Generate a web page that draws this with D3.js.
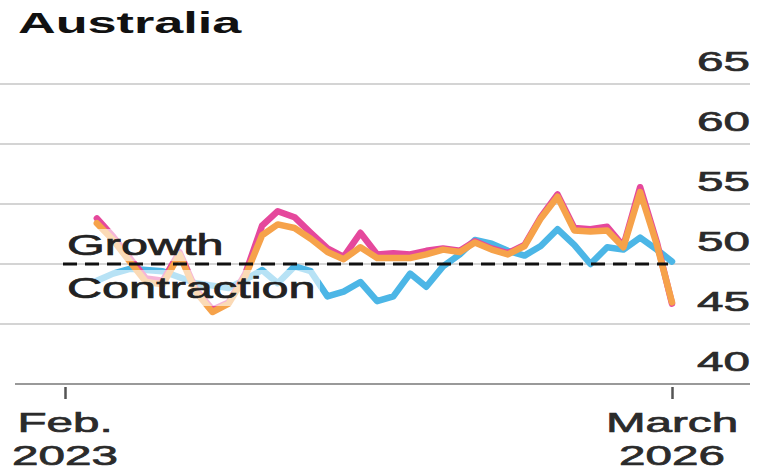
<!DOCTYPE html>
<html>
<head>
    <meta charset="utf-8">
    <title>Australia PMI</title>
    <script src="https://cdn.jsdelivr.net/npm/d3@7"></script>
    <style>
        html, body {
            margin: 0;
            padding: 0;
            background: #fff;
        }

        svg text {
            font-family: "Liberation Sans", Arial, sans-serif;
        }

        .heavy {
            stroke-width: 0.7px;
        }

        .grid {
            stroke: #d4d4d4;
            stroke-width: 2px;
        }

        .baseline {
            stroke: #999;
            stroke-width: 2px;
        }

        .series {
            fill: none;
            stroke-width: 6.5px;
            stroke-linejoin: round;
            stroke-linecap: round;
        }

        .threshold {
            stroke: #111;
            stroke-width: 3px;
            stroke-dasharray: 14 8;
        }
    </style>
</head>

<body>

<script type="text/javascript">
    var width = 768,
        height = 476,
        stretch = 1.7; // type is drawn wide

    // months shown on the x axis, and where the series start
    var firstMonth = new Date(2023, 1, 1),
        lastMonth = new Date(2026, 2, 1),
        seriesStart = new Date(2023, 3, 1);

    var yTicks = [40, 45, 50, 55, 60, 65];
    var xTickLabels = [["Feb.", "2023"], ["March", "2026"]];

    var services = [53.8, 52.3, 50.5, 48.8, 48.6, 51.0, 47.9, 46.2, 46.8, 49.2,
        53.2, 54.4, 53.9, 52.6, 51.3, 50.6, 52.6, 50.8, 50.9, 50.8,
        51.1, 51.3, 51.1, 51.9, 51.3, 50.9, 51.6, 53.9, 55.8, 53.0,
        52.9, 53.1, 51.5, 56.4, 51.8, 46.7];

    var composite = [53.4, 52.0, 50.2, 48.5, 48.3, 50.8, 47.7, 46.0, 46.7, 49.0,
        52.4, 53.3, 53.0, 52.1, 51.0, 50.4, 51.4, 50.5, 50.5, 50.5,
        50.8, 51.2, 51.0, 51.8, 51.2, 50.8, 51.5, 53.8, 55.6, 52.8,
        52.7, 52.8, 51.4, 56.0, 51.6, 46.8];

    var manufacturing = [48.6, 49.2, 49.6, 49.5, 49.4, 48.9, 48.4, 48.2, 48.0, 48.7,
        49.5, 48.4, 49.8, 49.4, 47.3, 47.7, 48.5, 46.9, 47.3, 49.2,
        48.1, 49.8, 50.8, 52.0, 51.7, 51.1, 50.7, 51.5, 52.9, 51.6,
        50.0, 51.4, 51.2, 52.2, 51.2, 50.2];

    var series = [
        {name: "Manufacturing", values: manufacturing, color: "#4cb6e6"},
        {name: "Services", values: services, color: "#e5489c"},
        {name: "Composite", values: composite, color: "#f6a24a"}
    ];

    var x = d3.scaleTime()
            .domain([firstMonth, lastMonth])
            .range([65, 672]);

    var y = d3.scaleLinear()
            .domain([40, 65])
            .range([384, 84]);

    var svg = d3.select("body")
            .append("svg")
            .attr("width", width)
            .attr("height", height);

    // wide text helper: position, then stretch horizontally around the anchor
    function wideText(g, px, py, str, size, anchor, sx) {
        return g.append("text")
                .attr("class", "heavy")
                .attr("transform", "translate(" + px + "," + py + ") scale(" + (sx || stretch) + ",1)")
                .attr("text-anchor", anchor || "start")
                .style("font-size", size + "px")
                .text(str);
    }

    wideText(svg, 18, 33, "Australia", 29, "start", 1.8)
            .attr("class", null)
            .style("font-weight", "bold")
            .attr("fill", "#111");

    // horizontal grid, labels sit above each line
    svg.selectAll(".grid")
            .data(yTicks.filter(function (d) { return d > 40; }))
            .enter().append("line")
            .attr("class", "grid")
            .attr("x1", 0)
            .attr("x2", 750)
            .attr("y1", function (d) { return y(d); })
            .attr("y2", function (d) { return y(d); });

    svg.append("line")
            .attr("class", "baseline")
            .attr("x1", 15)
            .attr("x2", 750)
            .attr("y1", y(40))
            .attr("y2", y(40));

    var yLabels = svg.append("g").attr("fill", "#2b2b2b").attr("stroke", "#2b2b2b");
    yTicks.forEach(function (t) {
        wideText(yLabels, 750, y(t) - 13, t, 28, "end");
    });

    // x axis: only first and last month
    var xAxis = svg.append("g")
            .attr("transform", "translate(0," + (y(40) + 3) + ")")
            .call(d3.axisBottom(x)
                    .tickValues([firstMonth, lastMonth])
                    .tickSize(12)
                    .tickFormat(""));
    xAxis.select(".domain").remove();
    xAxis.selectAll(".tick line")
            .attr("stroke", "#555")
            .attr("stroke-width", 2.5);

    var xLabels = svg.append("g").attr("fill", "#2b2b2b").attr("stroke", "#2b2b2b");
    [firstMonth, lastMonth].forEach(function (m, i) {
        wideText(xLabels, x(m), 432, xTickLabels[i][0], 28, "middle");
        wideText(xLabels, x(m), 465, xTickLabels[i][1], 28, "middle");
    });

    var line = d3.line()
            .x(function (d, i) { return x(d3.timeMonth.offset(seriesStart, i)); })
            .y(function (d) { return y(d); });

    svg.selectAll(".series")
            .data(series)
            .enter().append("path")
            .attr("class", "series")
            .attr("stroke", function (d) { return d.color; })
            .attr("d", function (d) { return line(d.values); });

    // translucent panels behind the zone labels
    svg.append("rect")
            .attr("x", 62).attr("y", 229)
            .attr("width", 166).attr("height", 32)
            .attr("fill", "#fff").attr("fill-opacity", 0.6);
    svg.append("rect")
            .attr("x", 62).attr("y", 270)
            .attr("width", 258).attr("height", 36)
            .attr("fill", "#fff").attr("fill-opacity", 0.6);

    svg.append("line")
            .attr("class", "threshold")
            .attr("x1", 63)
            .attr("x2", 668)
            .attr("y1", y(50))
            .attr("y2", y(50));

    var zone = svg.append("g").attr("fill", "#222").attr("stroke", "#222");
    wideText(zone, 67, 255, "Growth", 30, "start", 1.62);
    wideText(zone, 67, 298, "Contraction", 30, "start", 1.62);
</script>

</body>
</html>
